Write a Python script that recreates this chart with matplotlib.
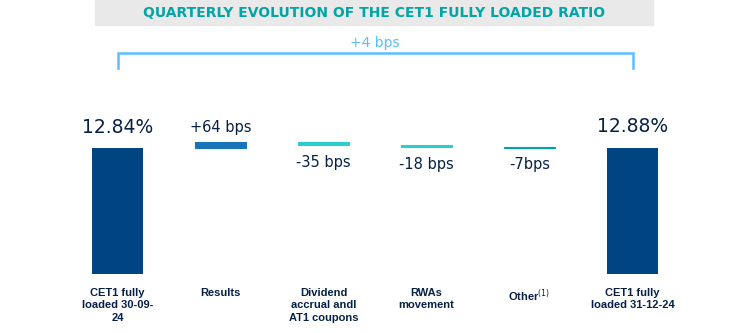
"""Quarterly evolution of the CET1 fully loaded ratio (waterfall)."""

import matplotlib
matplotlib.use("Agg")
import matplotlib.pyplot as plt

# data
categories = [
    "CET1 fully\nloaded 30-09-\n24",
    "Results",
    "Dividend\naccrual andl\nAT1 coupons",
    "RWAs\nmovement",
    "Other$^{(1)}$",
    "CET1 fully\nloaded 31-12-24",
]
start_ratio = 12.84          # %
steps_bps = [64, -35, -18, -7]
end_ratio = 12.88            # %
value_labels = ["12.84%", "+64 bps", "-35 bps", "-18 bps", "-7bps", "12.88%"]
total_change = "+4 bps"

NAVY = "#004481"
STEP_COLORS = ["#1973B8", "#2DCCCD", "#2DCCCD", "#02A5A5"]
TEXT = "#072146"
TEAL = "#02A5A5"
BRACKET = "#5BBEFF"

W, H = 744, 333
fig = plt.figure(figsize=(W / 100, H / 100), dpi=100, facecolor="white")

# axes placed in pixel terms: x slots 66..684, y baseline at 274px
px_per_unit = 126 / start_ratio
ax_top_px = 30
ax = fig.add_axes([66 / W, (H - 274) / H, 618 / W, (274 - ax_top_px) / H])
ax.set_xlim(-0.5, len(categories) - 0.5)
ax.set_ylim(0, (274 - ax_top_px) / px_per_unit)

# bars
ax.bar(0, start_ratio, width=0.5, color=NAVY)
level = start_ratio
tops = [start_ratio]
for i, (b, c) in enumerate(zip(steps_bps, STEP_COLORS), start=1):
    d = b / 100
    bottom = level if d > 0 else level + d
    ax.bar(i, abs(d), bottom=bottom, width=0.5, color=c,
           edgecolor=c, linewidth=0.8)
    tops.append((level, level + d))
    level += d
ax.bar(len(categories) - 1, end_ratio, width=0.5, color=NAVY)

# value labels
ax.annotate(value_labels[0], (0, start_ratio), xytext=(0, 8),
            textcoords="offset points", ha="center", va="bottom",
            fontsize=13.5, color=TEXT)
ax.annotate(value_labels[-1], (len(categories) - 1, end_ratio), xytext=(0, 8),
            textcoords="offset points", ha="center", va="bottom",
            fontsize=13.5, color=TEXT)
for i, (prev, new) in enumerate(tops[1:], start=1):
    if new > prev:
        ax.annotate(value_labels[i], (i, new), xytext=(0, 5),
                    textcoords="offset points", ha="center", va="bottom",
                    fontsize=10.5, color=TEXT)
    else:
        ax.annotate(value_labels[i], (i, new), xytext=(0, -7),
                    textcoords="offset points", ha="center", va="top",
                    fontsize=10.5, color=TEXT)

# category labels
ax.set_xticks(range(len(categories)))
ax.set_xticklabels(categories, fontsize=8, fontweight="bold", color=TEXT,
                   family="Liberation Sans", linespacing=1.3)
ax.tick_params(axis="x", length=0, pad=10)
ax.set_yticks([])
for s in ax.spines.values():
    s.set_visible(False)

# bracket for total change
y_line = (274 - 53) / px_per_unit
y_foot = (274 - 68) / px_per_unit
x0, x1 = 0, len(categories) - 1
ax.plot([x0, x0, x1, x1], [y_foot, y_line, y_line, y_foot], color=BRACKET,
        lw=1.8, clip_on=False, solid_joinstyle="miter")
ax.text((x0 + x1) / 2, y_line + 0.3, total_change, ha="center", va="bottom",
        fontsize=10, color=BRACKET)

# title band
fig.patches.append(plt.Rectangle((95 / W, (H - 25) / H), 558 / W, 25 / H,
                                 transform=fig.transFigure, color="#E9E9E9"))
fig.text(374 / W, (H - 13) / H, "QUARTERLY EVOLUTION OF THE CET1 FULLY LOADED RATIO",
         ha="center", va="center", fontsize=10, fontweight="bold", color=TEAL)

fig.savefig("out.png", dpi=100, facecolor="white")
